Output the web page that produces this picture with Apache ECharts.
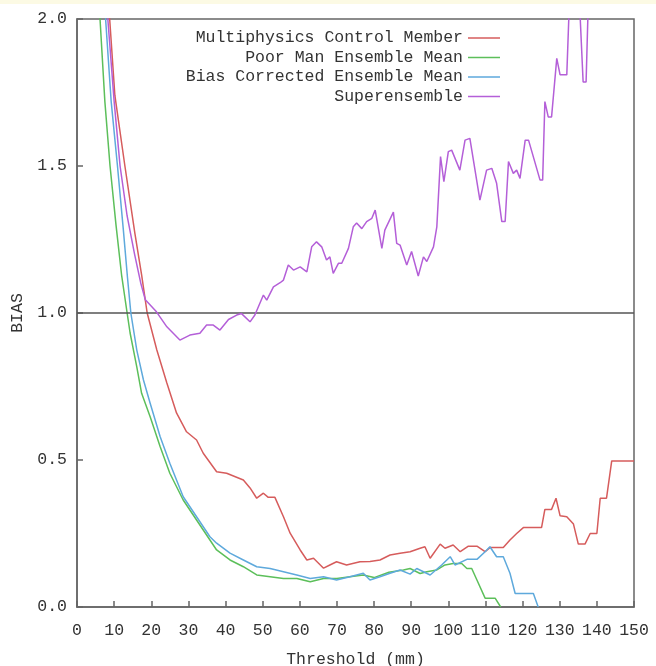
<!DOCTYPE html>
<html>
<head>
<meta charset="utf-8">
<title>BIAS vs Threshold</title>
<script src="https://cdn.jsdelivr.net/npm/echarts@6/dist/echarts.min.js"></script>
<style>
  html, body { margin: 0; padding: 0; background: #ffffff; }
  #chart { width: 656px; height: 666px; }
</style>
</head>
<body>
<div id="chart"></div>
<script>
// Series names, drawn in the legend
const seriesNames = [
  'Multiphysics Control Member',
  'Poor Man Ensemble Mean',
  'Bias Corrected Ensemble Mean',
  'Superensemble'
];

// Axis ticks
const xTicks = { min: 0, max: 150, interval: 10 };
const yTicks = { min: 0, max: 2, interval: 0.5 };

// BIAS values as [threshold (mm), bias] pairs
const controlMember = [
  [7, 2.3], [8.8, 2.0], [10.2, 1.74], [12.9, 1.5], [15.6, 1.27], [17.4, 1.13], [18.9, 1.0],
  [21.5, 0.874], [24.2, 0.762], [26.8, 0.66], [29.5, 0.596], [32.2, 0.568], [34, 0.523],
  [37.6, 0.46], [40.3, 0.455], [44.8, 0.432], [46.6, 0.405], [48.4, 0.37], [50.2, 0.387],
  [51.5, 0.373], [53.3, 0.373], [55.6, 0.307], [57.4, 0.251], [60.1, 0.194], [61.9, 0.16],
  [63.7, 0.166], [66.4, 0.132], [68.1, 0.143], [69.9, 0.154], [72.6, 0.143], [76.2, 0.154],
  [78.9, 0.155], [81.6, 0.16], [84.3, 0.177], [87, 0.183], [89.7, 0.188], [92.4, 0.2],
  [93.7, 0.205], [95.1, 0.166], [97.8, 0.214], [99.1, 0.2], [101.3, 0.211], [103.2, 0.188],
  [105.4, 0.207], [107.7, 0.207], [109.9, 0.188], [111.2, 0.202], [114.8, 0.202],
  [116.6, 0.228], [118.4, 0.25], [120.2, 0.27], [125.1, 0.27], [126, 0.332], [127.8, 0.332],
  [129, 0.37], [130.1, 0.31], [131.9, 0.307], [133.7, 0.282], [135, 0.214], [136.8, 0.214],
  [138.2, 0.25], [140, 0.25], [140.9, 0.37], [142.6, 0.37], [144, 0.497], [150, 0.497]
];

const poorManMean = [
  [5, 2.4], [6.2, 2.0], [7.5, 1.72], [8.9, 1.5], [10.5, 1.3], [12, 1.13], [13.5, 1.0],
  [14.3, 0.932], [16.1, 0.817], [17.4, 0.727], [19.7, 0.647], [22.4, 0.545], [25, 0.455],
  [28.6, 0.364], [32.2, 0.296], [35.8, 0.228], [37.6, 0.194], [41.2, 0.16], [44.8, 0.137],
  [48.4, 0.109], [52, 0.103], [55.6, 0.097], [59.2, 0.097], [62.8, 0.086], [66.4, 0.097],
  [70, 0.097], [73.5, 0.103], [77.1, 0.109], [80, 0.1], [84, 0.118], [87.9, 0.126],
  [89.7, 0.131], [92.4, 0.114], [94.2, 0.12], [96.9, 0.126], [99.1, 0.143], [101.3, 0.148],
  [103.6, 0.148], [105, 0.131], [106.3, 0.131], [107.7, 0.092], [109.9, 0.03], [112.6, 0.03],
  [114.1, 0.0]
];

const biasCorrectedMean = [
  [6, 2.4], [7.7, 2.0], [9.2, 1.72], [10.9, 1.5], [12.5, 1.28], [13.6, 1.12], [14.5, 1.0],
  [16.1, 0.874], [17.9, 0.772], [19.7, 0.693], [22.4, 0.579], [25, 0.489], [28.6, 0.375],
  [32.2, 0.307], [35.8, 0.239], [37.6, 0.217], [41.2, 0.183], [44.8, 0.16], [48.4, 0.137],
  [52, 0.131], [55.6, 0.12], [59.2, 0.109], [62.8, 0.097], [66.4, 0.103], [69.9, 0.092],
  [73.5, 0.103], [77.1, 0.115], [78.9, 0.092], [81.6, 0.103], [84.3, 0.115], [87, 0.126],
  [89.7, 0.112], [91.5, 0.131], [95.1, 0.109], [98.2, 0.143], [100.5, 0.171], [101.8, 0.143],
  [105, 0.162], [107.7, 0.162], [109.9, 0.188], [111.2, 0.205], [113, 0.171], [114.8, 0.171],
  [116.6, 0.115], [118, 0.046], [122.9, 0.046], [124.2, 0.0]
];

const superensemble = [
  [7, 2.35], [8.3, 2.0], [10, 1.72], [11.6, 1.5], [13.5, 1.33], [15.5, 1.2], [17.2, 1.1],
  [18.4, 1.045], [21.4, 1.004], [24.2, 0.953], [27.7, 0.908], [30.4, 0.925], [33.1, 0.931],
  [34.9, 0.959], [36.7, 0.959], [38.5, 0.942], [40.8, 0.978], [43, 0.993], [44.3, 0.998],
  [46.6, 0.97], [47.9, 0.993], [50.2, 1.061], [51.1, 1.044], [52.9, 1.089], [54.7, 1.103],
  [55.6, 1.112], [56.9, 1.163], [58.3, 1.146], [60.1, 1.157], [61.9, 1.14], [63.2, 1.225],
  [64.5, 1.242], [65.9, 1.225], [67.2, 1.18], [68.1, 1.191], [69, 1.135], [70.4, 1.169],
  [71.3, 1.169], [73.1, 1.22], [74.4, 1.293], [75.3, 1.306], [76.7, 1.287], [78, 1.311],
  [79.4, 1.322], [80.3, 1.35], [82.1, 1.22], [82.9, 1.282], [85.2, 1.343], [86.1, 1.237],
  [87, 1.231], [88.8, 1.163], [90.1, 1.209], [91.9, 1.126], [93.3, 1.191], [94.2, 1.175],
  [96, 1.225], [96.9, 1.293], [97.9, 1.532], [98.8, 1.447], [100, 1.549], [100.9, 1.554],
  [103.1, 1.486], [104.5, 1.588], [105.8, 1.594], [108.5, 1.384], [110.3, 1.486],
  [111.7, 1.492], [113, 1.441], [114.4, 1.311], [115.3, 1.311], [116.2, 1.515],
  [117.5, 1.475], [118.4, 1.486], [119.3, 1.458], [120.7, 1.588], [121.6, 1.588],
  [124.7, 1.452], [125.4, 1.452], [126, 1.719], [126.9, 1.667], [127.8, 1.667],
  [129.2, 1.866], [130.1, 1.81], [131.9, 1.81], [133, 2.2], [134.8, 2.2], [136.3, 1.786],
  [137.1, 1.786], [138, 2.2], [150, 2.2]
];

const seriesData = [controlMember, poorManMean, biasCorrectedMean, superensemble];
const seriesColors = ['#d65c5c', '#5cbf5a', '#5ea9dc', '#b45fd8'];

const monoFont = 'Liberation Mono';
const textColor = '#333333';
const frameColor = '#666666';

const chart = echarts.init(document.getElementById('chart'), null, { renderer: 'canvas' });

const series = seriesNames.map((name, i) => ({
  name: name,
  type: 'line',
  data: seriesData[i],
  showSymbol: false,
  symbol: 'none',
  clip: true,
  z: 3 + i,
  lineStyle: { color: seriesColors[i], width: 1.5 },
  itemStyle: { color: seriesColors[i] },
  emphasis: { disabled: true }
}));

// Reference line at BIAS = 1
series.push({
  type: 'line',
  data: [],
  silent: true,
  markLine: {
    silent: true,
    symbol: 'none',
    label: { show: false },
    lineStyle: { color: '#555555', width: 1.5, type: 'solid' },
    data: [{ yAxis: 1 }]
  },
  z: 2
});

chart.setOption({
  animation: false,
  backgroundColor: '#ffffff',
  graphic: [{
    type: 'rect',
    left: 0, top: 0,
    shape: { width: 656, height: 4 },
    style: { fill: '#fcfae4' },
    silent: true
  }],
  grid: {
    left: 77, right: 22, top: 19, bottom: 59,
    outerBoundsMode: 'none',
    containLabel: false,
    show: true,
    borderColor: frameColor,
    borderWidth: 1.5,
    backgroundColor: 'transparent'
  },
  legend: {
    data: seriesNames,
    orient: 'vertical',
    align: 'right',
    right: 156,
    top: 29,
    padding: 0,
    icon: 'rect',
    itemWidth: 32,
    itemHeight: 1.5,
    itemGap: 1.5,
    selectedMode: false,
    textStyle: { fontFamily: monoFont, fontSize: 16.5, color: textColor, lineHeight: 18 }
  },
  xAxis: {
    type: 'value',
    min: xTicks.min,
    max: xTicks.max,
    interval: xTicks.interval,
    name: 'Threshold (mm)',
    nameLocation: 'middle',
    nameGap: 44,
    nameTextStyle: { fontFamily: monoFont, fontSize: 16.5, color: textColor },
    axisLine: { show: true, lineStyle: { color: frameColor, width: 1.5 } },
    axisTick: { show: true, inside: true, length: 6, lineStyle: { color: frameColor, width: 1.5 } },
    axisLabel: { margin: 15, fontFamily: monoFont, fontSize: 16.5, color: textColor },
    splitLine: { show: false }
  },
  yAxis: {
    type: 'value',
    min: yTicks.min,
    max: yTicks.max,
    interval: yTicks.interval,
    name: 'BIAS',
    nameLocation: 'middle',
    nameGap: 50,
    nameRotate: 90,
    nameTextStyle: { fontFamily: monoFont, fontSize: 16.5, color: textColor },
    axisLine: { show: true, lineStyle: { color: frameColor, width: 1.5 } },
    axisTick: { show: true, inside: true, length: 6, lineStyle: { color: frameColor, width: 1.5 } },
    axisLabel: {
      margin: 10,
      fontFamily: monoFont,
      fontSize: 16.5,
      color: textColor,
      formatter: v => v.toFixed(1)
    },
    splitLine: { show: false }
  },
  series: series
});
</script>
</body>
</html>
